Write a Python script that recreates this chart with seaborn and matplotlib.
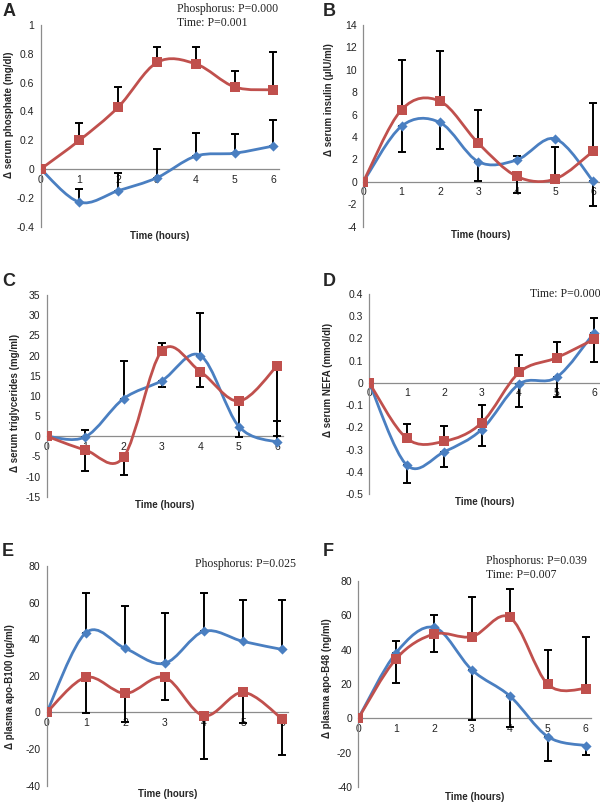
import numpy as np
import pandas as pd
import matplotlib
matplotlib.use('Agg')
import matplotlib.pyplot as plt
import seaborn as sns
from matplotlib.path import Path
from matplotlib.patches import PathPatch

#time points
hours = [0, 1, 2, 3, 4, 5, 6]

#A: serum phosphate
a_blue = [0, -0.23, -0.15, -0.06, 0.09, 0.11, 0.16]
a_blue_err = [0, 0.09, 0.12, 0.20, 0.16, 0.13, 0.18]
a_red = [0, 0.20, 0.43, 0.74, 0.73, 0.57, 0.55]
a_red_err = [0, 0.12, 0.14, 0.11, 0.12, 0.11, 0.26]

#B: serum insulin
b_blue = [0, 4.98, 5.3, 1.8, 1.95, 3.85, 0.05]
b_blue_err = [0, -2.3, -2.35, -1.75, 0.4, 0, -2.2]
b_red = [0, 6.45, 7.2, 3.45, 0.5, 0.25, 2.75]
b_red_err = [0, 4.4, 4.5, 3.0, -1.5, 2.9, 4.3]

#C: serum triglycerides
c_blue = [0, -0.2, 9.3, 13.8, 20.0, 2.4, -1.5]
c_blue_err = [0, 1.7, 9.4, -1.7, 10.5, 0, 5.3]
c_red = [0, -3.4, -5.2, 21.2, 16.0, 8.7, 17.5]
c_red_err = [0, -5.3, -4.4, 2.0, -3.9, -8.8, -17.5]

#D: serum NEFA
d_blue = [0, -0.37, -0.31, -0.21, -0.005, 0.025, 0.225]
d_blue_err = [0, -0.08, -0.07, -0.075, -0.105, -0.09, 0.065]
d_red = [0, -0.25, -0.263, -0.18, 0.047, 0.113, 0.196]
d_red_err = [0, 0.065, 0.068, 0.08, 0.08, 0.07, -0.1]

#E: plasma apo-B100
e_blue = [0, 43.6, 35.0, 26.8, 44.3, 38.8, 34.4]
e_blue_err = [0, 21.5, 23.1, 27.8, 20.8, 22.6, 27.0]
e_red = [0, 19.2, 10.4, 19.2, -1.8, 11.0, -3.6]
e_red_err = [0, -19.7, -15.5, -12.4, -23.8, -16.6, -19.6]

#F: plasma apo-B48
f_blue = [0, 38.2, 52.9, 28.1, 13.0, -10.6, -15.8]
f_blue_err = [0, 6.9, 6.9, -29.0, -17.8, -13.9, -5.4]
f_red = [0, 34.7, 49.0, 47.5, 58.7, 19.8, 17.3]
f_red_err = [0, -14.3, -10.5, 22.8, 16.3, 19.9, 29.8]

y_labels = ['\u0394 serum phosphate (mg/dl)', '\u0394 serum insulin (\u03bcIU/ml)',
            '\u0394 serum triglycerides (mg/ml)', '\u0394 serum NEFA (mmol/dl)',
            '\u0394 plasma apo-B100 (\u03bcg/ml)', '\u0394 plasma apo-B48 (ng/ml)']
panel_letters = ['A', 'B', 'C', 'D', 'E', 'F']
y_ranges = [(-0.4, 1, 0.2), (-4, 14, 2), (-15, 35, 5), (-0.5, 0.4, 0.1), (-40, 80, 20), (-40, 80, 20)]
stats_text = [['Phosphorus: P=0.000', 'Time: P=0.001'], [], [], ['Time: P=0.000'],
              ['Phosphorus: P=0.025'], ['Phosphorus: P=0.039', 'Time: P=0.007']]

BLUE = '#4a7fc1'
RED = '#c0504d'
AXIS_GREY = '#8c8c8c'
W, H = 600, 802
XMAX = 6.15

#layout in pixels: left, x=6 position, top, bottom, ylabel dx, ylabel y frac, xlabel dy
layout = [
    (40.7, 273.3, 25, 226.7, -31.7, 0.554, 9.3),
    (363.3, 593.3, 25, 226.7, -34, 0.63, 8.3),
    (46.7, 277.3, 295, 496.7, -31.7, 0.463, 8.3),
    (369.3, 594, 294, 494, -41, 0.57, 8.3),
    (46.7, 282.3, 566, 785.7, -36.7, 0.45, 8.6),
    (358.3, 585.7, 580.7, 787.3, -31.6, 0.53, 9.4),
]
letter_pos = [(3, 11.5), (323, 11.5), (2, 281.5), (323, 281.5), (2, 551.5), (323, 551.5)]
stats_pos = [(176.7, 9), None, None, (530, 294), (195, 564), (485.7, 560.7)]

series = [
    (a_blue, a_blue_err, a_red, a_red_err),
    (b_blue, b_blue_err, b_red, b_red_err),
    (c_blue, c_blue_err, c_red, c_red_err),
    (d_blue, d_blue_err, d_red, d_red_err),
    (e_blue, e_blue_err, e_red, e_red_err),
    (f_blue, f_blue_err, f_red, f_red_err),
]

sns.set_theme(style='white')
plt.rcParams['font.family'] = ['Liberation Sans', 'DejaVu Sans']
plt.rcParams['axes.unicode_minus'] = False


def smooth_path(x, y):
    #excel style smoothed line: bezier segments through every point
    pts = np.column_stack([x, y]).astype(float)
    n = len(pts)
    verts = [pts[0]]
    codes = [Path.MOVETO]
    for i in range(n - 1):
        p_prev = pts[i - 1] if i > 0 else pts[i]
        p_next2 = pts[i + 2] if i + 2 < n else pts[i + 1]
        c1 = pts[i] + (pts[i + 1] - p_prev) / 6
        c2 = pts[i + 1] - (p_next2 - pts[i]) / 6
        verts += [c1, c2, pts[i + 1]]
        codes += [Path.CURVE4] * 3
    return Path(verts, codes)


def draw_series(ax, vals, errs, color, marker, size, z):
    vals = np.array(vals)
    errs = np.array(errs)
    lower = np.where(errs < 0, -errs, 0)
    upper = np.where(errs > 0, errs, 0)
    keep = errs != 0
    ax.errorbar(np.array(hours)[keep], vals[keep], yerr=[lower[keep], upper[keep]], fmt='none',
                ecolor='black', elinewidth=1.4, capsize=2.6, capthick=1.4, zorder=2)
    ax.add_patch(PathPatch(smooth_path(hours, vals), fill=False, edgecolor=color, lw=2.0, zorder=z,
                           capstyle='round', joinstyle='round'))
    df = pd.DataFrame({'hour': hours, 'value': vals})
    sns.scatterplot(data=df, x='hour', y='value', ax=ax, color=color, marker=marker, s=size,
                    linewidth=0, zorder=z + 0.5, legend=False)


def tick_text(v):
    if abs(v) < 1e-9:
        return '0'
    return f'{v:g}'


fig = plt.figure(figsize=(W / 100, H / 100), dpi=100)

for i in range(6):
    left, x6, top, bot, ylab_dx, ylab_y, xlab_dy = layout[i]
    width = (x6 - left) * XMAX / 6
    ax = fig.add_axes([left / W, 1 - bot / H, width / W, (bot - top) / H])
    blue, blue_err, red, red_err = series[i]

    draw_series(ax, blue, blue_err, BLUE, 'D', 27, 3)
    draw_series(ax, red, red_err, RED, 's', 60, 5)

    ymin, ymax, step = y_ranges[i]
    ax.set_xlim(0, XMAX)
    ax.set_ylim(ymin, ymax)
    yticks = np.round(np.arange(ymin, ymax + step / 2, step), 3)
    ax.set_yticks(yticks)
    ax.set_yticklabels([tick_text(v) for v in yticks])
    ax.set_xticks(hours)
    ax.set_xticklabels([str(h) for h in hours])

    #axes like the excel chart: y axis at left, x axis through zero
    for side in ['top', 'right']:
        ax.spines[side].set_visible(False)
    ax.spines['bottom'].set_position(('data', 0))
    for side in ['left', 'bottom']:
        ax.spines[side].set_color(AXIS_GREY)
        ax.spines[side].set_linewidth(0.9)
        ax.spines[side].set_zorder(1)
    ax.tick_params(axis='both', direction='out', length=3, width=0.8, color=AXIS_GREY,
                   labelsize=7.5, labelcolor='#222222', pad=1.5)
    ax.tick_params(axis='x', pad=1)

    ax.set_ylabel(y_labels[i], fontsize=7, fontweight='bold', va='center')
    ax.yaxis.set_label_coords(ylab_dx / width, ylab_y)
    ax.set_xlabel('Time (hours)', fontsize=7, fontweight='bold', va='center')
    ax.xaxis.set_label_coords(0.5, -xlab_dy / (bot - top))
    ax.grid(False)

    lx, ly = letter_pos[i]
    fig.text(lx / W, 1 - ly / H, panel_letters[i], fontsize=13, fontweight='bold',
             ha='left', va='center')

    if stats_pos[i] is not None:
        sx, sy = stats_pos[i]
        for j, line in enumerate(stats_text[i]):
            fig.text(sx / W, 1 - (sy + 14 * j) / H, line, fontsize=8.5,
                     family=['Liberation Serif', 'DejaVu Serif'], ha='left', va='center',
                     color='#222222')

fig.savefig('out.png', dpi=100)
